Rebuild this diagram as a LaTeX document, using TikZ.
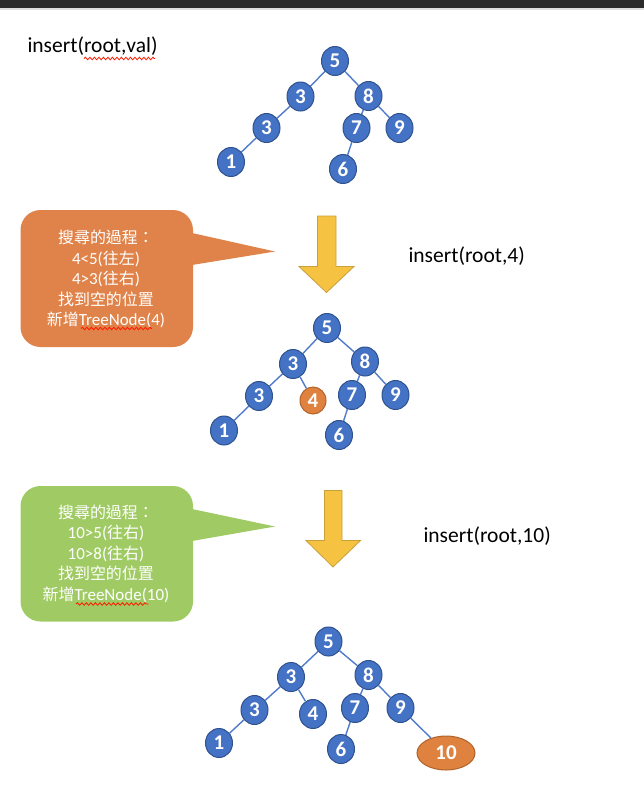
\documentclass[tikz,border=0pt]{standalone}
\usepackage{fontspec}
\setmainfont{Carlito}
\newfontfamily\cjk[Scale=0.94]{Noto Sans CJK TC}
\usetikzlibrary{shapes.geometric,decorations.pathmorphing}
\definecolor{nodeblue}{HTML}{4472C4}
\definecolor{nodeline}{HTML}{2F528F}
\definecolor{edgeblue}{HTML}{4F7BCB}
\definecolor{newfill}{HTML}{E0823F}
\definecolor{newline}{HTML}{B0622A}
\definecolor{boxorange}{HTML}{E0834A}
\definecolor{boxgreen}{HTML}{A0CB64}
\definecolor{arrowfill}{HTML}{F5C242}
\definecolor{arrowline}{HTML}{C9A03A}
\definecolor{topbar}{HTML}{2B2B2B}
\tikzset{
  tnode/.style={ellipse, fill=nodeblue, draw=nodeline, line width=1pt,
    minimum width=27pt, minimum height=29pt, inner sep=0pt,
    text=white, font=\fontsize{21}{21}\selectfont\bfseries},
  newnode/.style={tnode, fill=newfill, draw=newline},
  edge/.style={edgeblue, line width=1.4pt},
  label/.style={anchor=west, font=\fontsize{21.5}{21.5}\selectfont},
  boxtext/.style={align=center, text=white, font=\fontsize{17}{20.5}\selectfont},
  squiggle/.style={red!80!orange, line width=.8pt,
    decorate, decoration={snake, segment length=4.5pt, amplitude=1.3pt}},
  downarrow/.style={fill=arrowfill, draw=arrowline, line width=.8pt}
}
\begin{document}
\begin{tikzpicture}[x=1pt, y=-1pt]
    \useasboundingbox (0,0) rectangle (644,788);
    \fill[topbar] (0,0) rectangle (644,7.5);
    \fill[gray!25] (0,7.5) rectangle (644,9.5);

    % first tree
    \node[label] (ltop) at (24,46.5) {insert(root,val)};
    \draw[squiggle] (84,58.5) -- (155,58.5);
    \node[tnode] (A5) at (335,61) {5};
    \node[tnode] (A3) at (300.5,96.5) {3};
    \node[tnode] (A8) at (368.5,96) {8};
    \node[tnode] (A3l) at (266.5,128) {3};
    \node[tnode] (A7) at (356.5,128) {7};
    \node[tnode] (A9) at (399.5,128) {9};
    \node[tnode] (A1) at (231,162) {1};
    \node[tnode] (A6) at (343,169) {6};
    \draw[edge] (A5) -- (A3);
    \draw[edge] (A5) -- (A8);
    \draw[edge] (A3) -- (A3l);
    \draw[edge] (A3l) -- (A1);
    \draw[edge] (A8) -- (A7);
    \draw[edge] (A8) -- (A9);
    \draw[edge] (A7) -- (A6);

    % insert 4
    \fill[boxorange, rounded corners=20pt] (20.5,210) rectangle (193,347);
    \fill[boxorange] (192,233) -- (275,251.5) -- (192,265) -- cycle;
    \node[boxtext] (boxa) at (106,279) {{\cjk 搜尋的過程：}\\4<5({\cjk 往左})\\4>3({\cjk 往右})\\{\cjk 找到空的位置}\\{\cjk 新增}TreeNode(4)};
    \draw[squiggle] (81,328.5) -- (152,328.5);
    \draw[downarrow] (317.5,216) -- (336,216) -- (336,266.5) -- (354,266.5)
      -- (326.5,292.5) -- (299,266.5) -- (317.5,266.5) -- cycle;
    \node[label] (lfour) at (405,256.5) {insert(root,4)};
    \node[tnode] (B5) at (327,328) {5};
    \node[tnode] (B3) at (293,364) {3};
    \node[tnode] (B8) at (365,361.5) {8};
    \node[tnode] (B3l) at (259,396) {3};
    \node[newnode, minimum width=26pt, minimum height=27pt] (B4) at (313,400.5) {4};
    \node[tnode] (B7) at (352,395) {7};
    \node[tnode] (B9) at (395.5,395) {9};
    \node[tnode] (B1) at (224,430.5) {1};
    \node[tnode] (B6) at (339,435) {6};
    \draw[edge] (B5) -- (B3);
    \draw[edge] (B5) -- (B8);
    \draw[edge] (B3) -- (B3l);
    \draw[edge] (B3) -- (B4);
    \draw[edge] (B3l) -- (B1);
    \draw[edge] (B8) -- (B7);
    \draw[edge] (B8) -- (B9);
    \draw[edge] (B7) -- (B6);

    % insert 10
    \fill[boxgreen, rounded corners=20pt] (20.5,486) rectangle (193,621.5);
    \fill[boxgreen] (192,509) -- (275,526.5) -- (192,541) -- cycle;
    \node[boxtext] (boxb) at (106,553.5) {{\cjk 搜尋的過程：}\\10>5({\cjk 往右})\\10>8({\cjk 往右})\\{\cjk 找到空的位置}\\{\cjk 新增}TreeNode(10)};
    \draw[squiggle] (76,604) -- (148.5,604);
    \draw[downarrow] (324.5,490.5) -- (342,490.5) -- (342,540.5) -- (360.5,540.5)
      -- (333,567) -- (306,540.5) -- (324.5,540.5) -- cycle;
    \node[label] (lten) at (420,536.5) {insert(root,10)};
    \node[tnode] (C5) at (328.5,641.5) {5};
    \node[tnode] (C3) at (291,677) {3};
    \node[tnode] (C8) at (368.5,675) {8};
    \node[tnode] (C3l) at (254.5,710) {3};
    \node[tnode] (C4) at (313,714) {4};
    \node[tnode] (C7) at (355,708) {7};
    \node[tnode] (C9) at (400.5,708) {9};
    \node[tnode] (C1) at (219,743) {1};
    \node[tnode] (C6) at (341,749) {6};
    \node[newnode, minimum width=58pt, minimum height=34pt] (C10) at (446,753) {10};
    \draw[edge] (C5) -- (C3);
    \draw[edge] (C5) -- (C8);
    \draw[edge] (C3) -- (C3l);
    \draw[edge] (C3) -- (C4);
    \draw[edge] (C3l) -- (C1);
    \draw[edge] (C8) -- (C7);
    \draw[edge] (C8) -- (C9);
    \draw[edge] (C7) -- (C6);
    \draw[edge] (C9) -- (C10);
\end{tikzpicture}
\end{document}
